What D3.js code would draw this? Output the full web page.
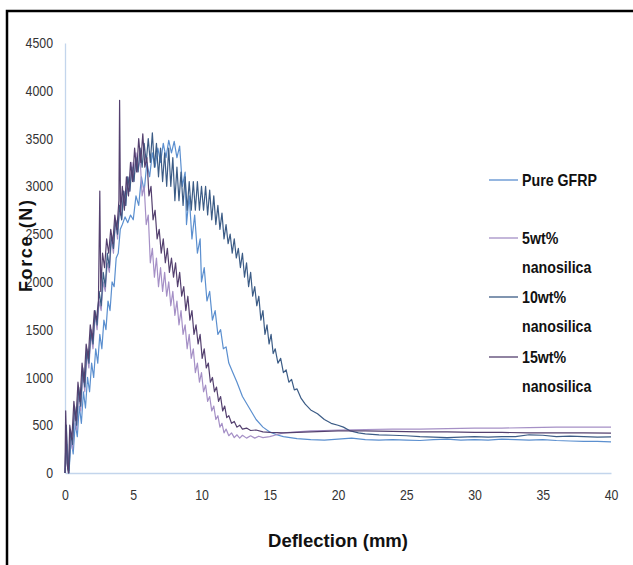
<!DOCTYPE html>
<html>
<head>
<meta charset="utf-8">
<script src="https://cdn.jsdelivr.net/npm/d3@7"></script>
<style>
  body { margin: 0; background: #fff; }
  svg text { font-family: "Liberation Sans", Arial, sans-serif; }
</style>
</head>
<body>
<script>
// force (N) vs deflection (mm)
const pureGFRP = [[0,0],[0.15,300],[0.3,30],[0.45,350],[0.6,200],[0.75,520],[0.9,380],[1.05,700],[1.2,520],[1.35,850],[1.5,680],[1.65,1000],[1.8,850],[1.95,1150],[2.1,1000],[2.25,1300],[2.4,1150],[2.55,1450],[2.7,1300],[2.85,1600],[3.0,1500],[3.15,1800],[3.3,1700],[3.45,2000],[3.6,1950],[3.75,2250],[3.9,2300],[4.05,2550],[4.2,2600],[4.4,2680],[4.6,2620],[4.8,2700],[5.0,2650],[5.2,2900],[5.4,2800],[5.6,3100],[5.8,2950],[6.0,3250],[6.2,3100],[6.4,3350],[6.6,3200],[6.8,3400],[7.0,3250],[7.2,3450],[7.4,3300],[7.6,3480],[7.8,3350],[8.0,3470],[8.2,3300],[8.4,3420],[8.6,3000],[8.8,3150],[8.9,2600],[9.1,2900],[9.3,2450],[9.5,2700],[9.7,2300],[9.9,2450],[10.0,2000],[10.2,2150],[10.4,1800],[10.6,1900],[10.8,1600],[11.0,1700],[11.2,1450],[11.4,1500],[11.6,1300],[11.8,1320],[12.0,1150],[12.3,1050],[12.6,950],[13.0,800],[13.5,680],[14.0,560],[14.5,480],[15.0,430],[15.5,400],[16,380],[17,360],[18,350],[19,345],[20,355],[21,365],[22,350],[23,345],[24,350],[25,345],[26,340],[27,350],[28,355],[29,345],[30,350],[31,345],[32,355],[33,350],[34,345],[35,350],[36,340],[37,335],[38,330],[39,330],[40,325]];

const nano5 = [[0,0],[0.1,450],[0.25,0],[0.4,400],[0.55,250],[0.7,650],[0.85,450],[1.0,850],[1.15,650],[1.3,1050],[1.45,850],[1.6,1250],[1.75,1100],[1.9,1450],[2.05,1300],[2.2,1650],[2.35,1500],[2.5,1800],[2.65,1700],[2.8,2000],[2.95,1900],[3.1,2200],[3.25,2100],[3.4,2450],[3.55,2300],[3.7,2650],[3.85,2450],[4.0,2800],[4.15,2650],[4.3,2950],[4.45,2800],[4.6,3100],[4.75,2950],[4.9,3250],[5.05,3050],[5.2,3350],[5.35,3150],[5.5,3300],[5.65,2900],[5.8,3000],[5.95,2600],[6.1,2700],[6.25,2200],[6.4,2350],[6.55,2050],[6.7,2250],[6.85,1950],[7.0,2150],[7.15,1900],[7.3,2100],[7.45,1850],[7.6,2000],[7.75,1750],[7.9,1900],[8.05,1650],[8.2,1800],[8.35,1550],[8.5,1700],[8.65,1450],[8.8,1550],[8.95,1300],[9.1,1450],[9.25,1200],[9.4,1300],[9.55,1050],[9.7,1150],[9.85,950],[10.0,1050],[10.15,850],[10.3,920],[10.45,750],[10.6,800],[10.75,650],[10.9,700],[11.05,560],[11.2,600],[11.35,480],[11.5,520],[11.65,420],[11.8,460],[12.0,390],[12.2,420],[12.4,370],[12.6,400],[12.8,365],[13.0,395],[13.3,365],[13.6,390],[13.9,365],[14.2,385],[14.5,370],[15,380],[15.5,400],[16,420],[17,430],[18,440],[19,445],[20,450],[22,455],[24,460],[26,460],[28,465],[30,470],[32,470],[34,475],[36,480],[38,480],[40,480]];

const nano10 = [[0,0],[0.1,500],[0.2,50],[0.3,0],[0.4,450],[0.55,300],[0.7,700],[0.85,500],[1.0,900],[1.15,700],[1.3,1100],[1.45,900],[1.6,1300],[1.75,1150],[1.9,1500],[2.05,1350],[2.2,1700],[2.35,1550],[2.5,1900],[2.65,1750],[2.8,2100],[2.95,1950],[3.1,2300],[3.25,2150],[3.4,2500],[3.55,2350],[3.7,2650],[3.85,2500],[4.0,2800],[4.15,2650],[4.3,2950],[4.45,2800],[4.6,3100],[4.75,2950],[4.9,3200],[5.05,3050],[5.2,3300],[5.35,3150],[5.5,3400],[5.65,3200],[5.8,3450],[5.95,3250],[6.1,3500],[6.25,3250],[6.4,3560],[6.55,3200],[6.7,3450],[6.85,3100],[7.0,3400],[7.15,3050],[7.3,3350],[7.45,3000],[7.6,3400],[7.75,3000],[7.9,3300],[8.05,2850],[8.2,3200],[8.35,2850],[8.5,3150],[8.65,2800],[8.8,3100],[8.95,2750],[9.1,3050],[9.25,2750],[9.4,3050],[9.55,2750],[9.7,3050],[9.85,2750],[10.0,3000],[10.15,2750],[10.3,3000],[10.45,2700],[10.6,2960],[10.75,2650],[10.9,2900],[11.05,2600],[11.2,2800],[11.35,2550],[11.5,2720],[11.65,2450],[11.8,2600],[11.95,2400],[12.1,2500],[12.25,2300],[12.4,2450],[12.55,2250],[12.7,2350],[12.85,2150],[13.0,2300],[13.15,2050],[13.3,2200],[13.45,1950],[13.6,2100],[13.75,1850],[13.9,1950],[14.05,1750],[14.2,1850],[14.35,1600],[14.5,1700],[14.65,1450],[14.8,1550],[14.95,1350],[15.1,1450],[15.25,1250],[15.4,1300],[15.6,1150],[15.8,1200],[16.0,1050],[16.2,1080],[16.4,950],[16.6,980],[16.8,870],[17.0,880],[17.3,780],[17.6,720],[18.0,660],[18.5,620],[19.0,560],[19.5,520],[20.0,500],[20.4,480],[20.9,440],[21.5,420],[22.0,410],[23,400],[24,395],[25,390],[26,380],[27,375],[28,370],[29,375],[30,380],[31,375],[32,380],[33,380],[34,400],[35,395],[36,380],[37,385],[38,380],[39,375],[40,378]];

const nano15 = [[0,0],[0.05,650],[0.15,100],[0.25,0],[0.35,500],[0.5,350],[0.65,750],[0.8,550],[0.95,950],[1.1,750],[1.25,1150],[1.4,950],[1.55,1350],[1.7,1200],[1.85,1550],[2.0,1400],[2.15,1700],[2.3,1600],[2.45,1800],[2.55,2950],[2.62,1900],[2.75,2300],[2.9,2150],[3.05,2450],[3.2,2300],[3.35,2550],[3.5,2400],[3.65,2700],[3.8,2550],[3.95,2850],[4.0,3900],[4.07,2700],[4.2,3000],[4.35,2750],[4.5,3100],[4.65,2900],[4.8,3250],[4.95,3050],[5.1,3400],[5.25,3150],[5.4,3500],[5.55,3250],[5.7,3550],[5.85,3200],[6.0,3300],[6.15,2900],[6.3,3000],[6.45,2650],[6.6,2750],[6.75,2450],[6.9,2550],[7.05,2300],[7.2,2450],[7.35,2200],[7.5,2350],[7.65,2100],[7.8,2250],[7.95,2050],[8.1,2200],[8.25,1950],[8.4,2100],[8.55,1850],[8.7,1950],[8.85,1700],[9.0,1850],[9.15,1600],[9.3,1700],[9.45,1450],[9.6,1550],[9.75,1350],[9.9,1450],[10.05,1200],[10.2,1300],[10.35,1100],[10.5,1150],[10.65,950],[10.8,1000],[10.95,850],[11.1,900],[11.25,750],[11.4,800],[11.55,650],[11.7,700],[11.85,580],[12.0,600],[12.2,520],[12.4,540],[12.6,480],[12.8,500],[13.0,460],[13.3,470],[13.6,445],[14,450],[14.5,430],[15,425],[16,420],[17,425],[18,430],[19,435],[20,440],[22,440],[24,435],[26,430],[28,430],[30,425],[32,425],[34,420],[36,420],[38,420],[40,418]];

const seriesNames = [["Pure GFRP"], ["5wt%", "nanosilica"], ["10wt%", "nanosilica"], ["15wt%", "nanosilica"]];
const seriesColors = ["#5b8fcf", "#a590c6", "#3c5c86", "#54406f"];
const xTicks = [0, 5, 10, 15, 20, 25, 30, 35, 40];
const yTicks = [0, 500, 1000, 1500, 2000, 2500, 3000, 3500, 4000, 4500];

const W = 633, H = 565;
const svg = d3.select("body").append("svg")
    .attr("width", W)
    .attr("height", H);

svg.append("rect")
    .attr("x", 7).attr("y", 11)
    .attr("width", 700).attr("height", 700)
    .attr("fill", "none")
    .attr("stroke", "#000")
    .attr("stroke-width", 2.5);

const x = d3.scaleLinear().domain([0, 40]).range([65, 611]);
const y = d3.scaleLinear().domain([0, 4500]).range([473, 43]);

// squeeze text a bit so it looks like the narrow office font
function narrow(sel, k) {
  sel.each(function() {
    const w = this.getComputedTextLength();
    d3.select(this).attr("textLength", w * k).attr("lengthAdjust", "spacingAndGlyphs");
  });
}

// axes: no tick marks, light blue lines
svg.append("g")
    .attr("transform", "translate(0," + y(0) + ")")
    .call(d3.axisBottom(x).tickValues(xTicks).tickFormat(d3.format("d")).tickSize(0).tickPadding(17));
svg.append("g")
    .attr("transform", "translate(" + x(0) + ",0)")
    .call(d3.axisLeft(y).tickValues(yTicks).tickFormat(d3.format("d")).tickSize(0).tickPadding(12));

svg.selectAll(".domain").attr("stroke", "#c3d5ec").attr("stroke-width", 1.3);
svg.selectAll(".tick text")
    .attr("fill", "#333")
    .style("font-size", "14.5px")
    .style("font-family", "'Liberation Sans', Arial, sans-serif")
    .call(narrow, 0.85);

const line = d3.line()
    .x(d => x(d[0]))
    .y(d => y(d[1]));

const allSeries = [pureGFRP, nano5, nano10, nano15];
svg.selectAll("path.series")
    .data(allSeries)
    .enter()
    .append("path")
    .attr("class", "series")
    .attr("d", line)
    .attr("fill", "none")
    .attr("stroke", (d, i) => seriesColors[i])
    .attr("stroke-width", 1.2)
    .attr("stroke-linejoin", "round");

// axis titles
svg.append("text")
    .attr("x", 338).attr("y", 547)
    .attr("text-anchor", "middle")
    .attr("font-weight", "bold")
    .attr("font-size", 18)
    .attr("fill", "#111")
    .attr("textLength", 140)
    .attr("lengthAdjust", "spacingAndGlyphs")
    .text("Deflection (mm)");

svg.append("text")
    .attr("transform", "translate(32,246) rotate(-90)")
    .attr("text-anchor", "middle")
    .attr("font-weight", "bold")
    .attr("font-size", 18)
    .attr("fill", "#111")
    .attr("textLength", 92)
    .text("Force (N)");

// legend
const legendY = [180, 238, 297, 357];
const legend = svg.append("g");
seriesNames.forEach(function(parts, i) {
  legend.append("line")
      .attr("x1", 489).attr("x2", 518)
      .attr("y1", legendY[i]).attr("y2", legendY[i])
      .attr("stroke", seriesColors[i])
      .attr("stroke-width", 1.3);
  parts.forEach(function(p, j) {
    legend.append("text")
        .attr("x", 522)
        .attr("y", legendY[i] + 6 + j * 29)
        .attr("font-weight", "bold")
        .attr("font-size", 16.5)
        .attr("fill", "#111")
        .text(p)
        .call(narrow, 0.86);
  });
});
</script>
</body>
</html>
